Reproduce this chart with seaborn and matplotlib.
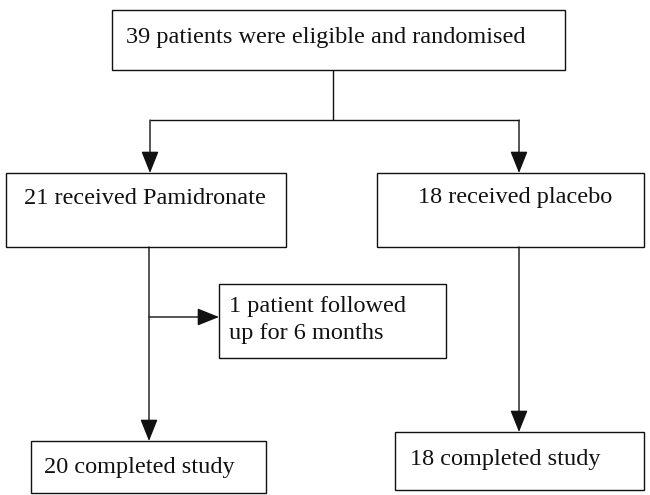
import matplotlib
matplotlib.use("Agg")
import matplotlib.pyplot as plt
from matplotlib.patches import Rectangle, FancyArrowPatch
import seaborn as sns

sns.set_theme(style="white")
plt.rcParams['font.family'] = ['Liberation Serif', 'DejaVu Serif']

# Flow-chart content
box_labels = [
    "39 patients were eligible and randomised",
    "21 received Pamidronate",
    "18 received placebo",
    "1 patient followed\nup for 6 months",
    "20 completed study",
    "18 completed study",
]
# box geometry in pixel coordinates: left, top, right, bottom
box_left = [112, 6, 377, 219, 31, 395]
box_top = [10, 173, 173, 284, 441, 432]
box_right = [565, 286, 644, 446, 266, 644]
box_bottom = [70, 247, 247, 358, 493, 490]
text_x = [126, 24, 418, 229, 44, 410]
text_y = [38, 199, 197, 320, 467, 460]

fig = plt.figure(figsize=(6.5, 4.95), dpi=100)
ax = fig.add_axes([0, 0, 1, 1])
ax.set_xlim(0, 650)
ax.set_ylim(495, 0)
ax.axis("off")

lc = "#111111"
for l, t, r, b, tx, ty, lab in zip(box_left, box_top, box_right, box_bottom,
                                   text_x, text_y, box_labels):
    ax.add_patch(Rectangle((l, t), r - l, b - t, fill=False, ec=lc, lw=1.0))
    ax.text(tx, ty, lab, ha="left", va="center", fontsize=17.5, color="#111111",
            linespacing=1.32)


def line(x0, y0, x1, y1):
    ax.plot([x0, x1], [y0, y1], color=lc, lw=1.0, solid_capstyle="butt")


def arrow(x0, y0, x1, y1):
    ax.add_patch(FancyArrowPatch((x0, y0), (x1, y1),
                                 arrowstyle="-|>,head_length=0.75,head_width=0.3",
                                 mutation_scale=18, color=lc, lw=1.0,
                                 shrinkA=0, shrinkB=0))

# top stem and split
line(333, 70, 333, 120)
line(150, 120, 519, 120)
arrow(150, 120, 150, 173)
arrow(519, 120, 519, 173)
# pamidronate branch
arrow(149, 247, 149, 441)
arrow(149, 317, 219, 317)
# placebo branch
arrow(519, 247, 519, 432)

fig.savefig("out.png", dpi=100, facecolor="white")
